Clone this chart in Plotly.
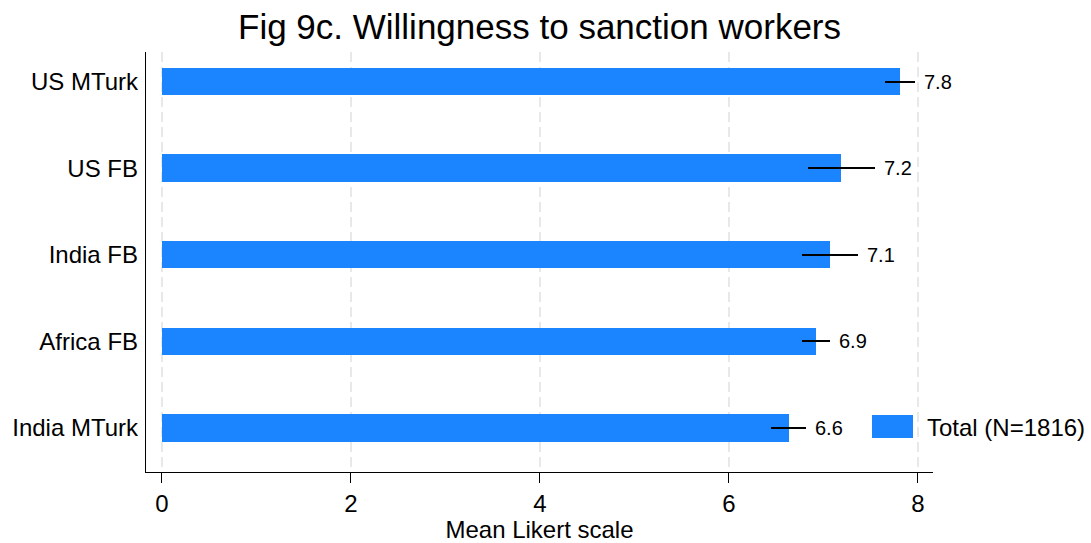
import plotly.graph_objects as go

# Data (bottom to top)
categories = ["India MTurk", "Africa FB", "India FB", "US FB", "US MTurk"]
means = [6.63, 6.92, 7.07, 7.19, 7.81]
ci_half = [0.181, 0.145, 0.294, 0.353, 0.155]
legend_label = "Total (N=1816)"
x_ticks = [0, 2, 4, 6, 8]

BLUE = "#1A85FF"
FONT = "Liberation Sans, Arial, Helvetica, sans-serif"

ypos = list(range(len(categories)))

fig = go.Figure()
fig.add_trace(go.Bar(
    y=ypos, x=means, orientation="h", width=0.318,
    marker=dict(color=BLUE, line=dict(width=0)),
    error_x=dict(type="data", array=ci_half, symmetric=True,
                 color="black", thickness=2, width=0),
    name=legend_label, showlegend=False,
))

annotations = []
for y, m, e in zip(ypos, means, ci_half):
    annotations.append(dict(
        x=m + e, y=y, xref="x", yref="y", text=f"{m:.1f}",
        showarrow=False, xanchor="left", yanchor="middle", xshift=7,
        font=dict(size=20, color="black", family=FONT),
    ))

# legend (manual, to match the wide swatch)
annotations.append(dict(
    x=0.9898, y=0.107, xref="paper", yref="paper", text=legend_label,
    showarrow=False, xanchor="left", yanchor="middle",
    font=dict(size=24, color="black", family=FONT),
))
shapes = [dict(type="rect", xref="paper", yref="paper",
               x0=0.9225, x1=0.9746, y0=0.081, y1=0.1357,
               fillcolor=BLUE, line=dict(width=0))]

fig.update_layout(
    width=1091, height=543,
    margin=dict(l=146, r=158, t=52, b=71, autoexpand=False),
    paper_bgcolor="white", plot_bgcolor="white",
    font=dict(family=FONT, color="black", size=24),
    title=dict(text="Fig 9c. Willingness to sanction workers",
               x=0.5, xref="paper", xanchor="center",
               y=0.95, yanchor="middle", yref="container",
               font=dict(size=35, color="black", family=FONT)),
    annotations=annotations,
    shapes=shapes,
    showlegend=False,
    bargap=0,
)
fig.update_xaxes(
    range=[-0.169, 8.159], tickvals=x_ticks,
    ticktext=[str(t) for t in x_ticks],
    showline=True, linecolor="black", linewidth=1.3,
    ticks="outside", ticklen=10, tickwidth=1.3, tickcolor="black",
    showgrid=True, gridcolor="#E8E8E8", gridwidth=2, griddash="10px,5px",
    zeroline=False, mirror=False, automargin=False,
    tickfont=dict(size=24),
    title=dict(text="Mean Likert scale", font=dict(size=24), standoff=8),
)
fig.update_yaxes(
    range=[-0.511, 4.343], tickvals=ypos, ticktext=categories,
    showline=True, linecolor="black", linewidth=1.3,
    ticks="", showgrid=False, zeroline=False, automargin=False,
    tickfont=dict(size=24), ticklabelstandoff=2,
)

fig.write_html(
    "out.html",
    config={"displayModeBar": False},
    post_script="document.body.style.margin='0';document.body.style.padding='0';",
)
